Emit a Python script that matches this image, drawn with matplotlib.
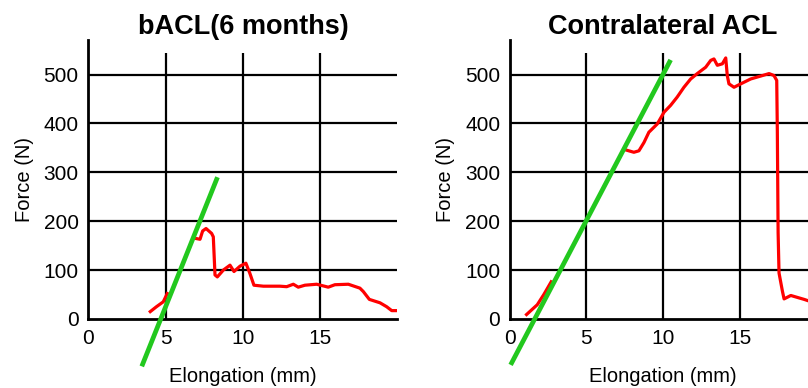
import matplotlib
matplotlib.use("Agg")
import matplotlib.pyplot as plt

plt.rcParams['font.family'] = ['Liberation Sans', 'DejaVu Sans']

nan = float("nan")

# 读图估出的曲线 (elongation mm, force N); nan = 被绿线盖住的一段
bacl_x = [4.0, 4.4, 4.84, 5.1, nan, 6.89, 7.22, 7.39, 7.61, 7.97, 8.08, 8.19, 8.34, 8.73, 9.16,
          9.42, 9.81, 10.19, 10.45, 10.71, 11.32, 12.39, 12.83, 13.26, 13.58, 14.01, 14.77,
          15.52, 15.95, 16.82, 17.57, 17.79, 18.18, 18.87, 19.3, 19.63, 19.9]
bacl_y = [15, 25, 35, 52, nan, 165, 163, 180, 185, 175, 168, 90, 86, 100, 110,
          97, 108, 114, 93, 69, 67, 67, 66, 71, 65, 69, 71,
          65, 70, 71, 63, 56, 40, 33, 25, 17, 17]
bacl_fit_x = [3.45, 8.35]
bacl_fit_y = [-97, 290]

contra_x = [1.09, 1.79, 2.22, 2.7, nan, 7.55, 8.1, 8.43, 8.76, 9.08, 9.63, 10.07, 10.5, 10.93,
            11.37, 11.81, 12.24, 12.79, 13.12, 13.33, 13.55, 13.88, 14.1, 14.2, 14.31, 14.64,
            15.08, 15.73, 16.39, 16.93, 17.25, 17.43, 17.47, 17.52, 17.58, 17.8, 17.91, 18.35,
            18.89, 19.22, 19.6]
contra_y = [9, 29, 50, 76, nan, 346, 341, 344, 361, 382, 399, 423, 437, 454,
            474, 491, 502, 515, 529, 532, 519, 522, 534, 498, 481, 474,
            481, 491, 497, 502, 498, 488, 382, 177, 94, 57, 41, 48,
            43, 40, 36]
contra_fit_x = [0.05, 10.5]
contra_fit_y = [-94, 530]

titles = ["bACL(6 months)", "Contralateral ACL"]
xticks = [0, 5, 10, 15]
yticks = [0, 100, 200, 300, 400, 500]
vgrid = [5, 10, 15]
hgrid = [100, 200, 300, 400, 500]
vgrid_top = 545

fig = plt.figure(figsize=(8.08, 3.88), dpi=100)
ax1 = fig.add_axes([0.1095, 0.178, 0.3824, 0.718])
ax2 = fig.add_axes([0.631, 0.178, 0.379, 0.718])

panels = [(ax1, bacl_x, bacl_y, bacl_fit_x, bacl_fit_y, titles[0]),
          (ax2, contra_x, contra_y, contra_fit_x, contra_fit_y, titles[1])]

for ax, x, y, fx, fy, title in panels:
    ax.set_xlim(0, 20)
    ax.set_ylim(0, 570)
    ax.hlines(hgrid, 0, 20, color="black", lw=1.6, zorder=1)
    ax.vlines(vgrid, 0, vgrid_top, color="black", lw=1.6, zorder=1)
    ax.plot(x, y, color="#ff0000", lw=2.3, zorder=3)
    ax.plot(fx, fy, color="#22c81e", lw=3.4, zorder=4, clip_on=False,
            solid_capstyle="butt")
    for s in ["top", "right"]:
        ax.spines[s].set_visible(False)
    for s in ["left", "bottom"]:
        ax.spines[s].set_linewidth(2)
    ax.set_xticks(xticks)
    ax.set_yticks(yticks)
    ax.tick_params(length=0, labelsize=15, pad=7)
    ax.set_xlabel("Elongation (mm)", fontsize=14.5, labelpad=14)
    ax.set_ylabel("Force (N)", fontsize=14.5, labelpad=7)
    ax.set_title(title, fontsize=19.5, fontweight="bold", pad=4)

fig.savefig("out.png", dpi=100)
